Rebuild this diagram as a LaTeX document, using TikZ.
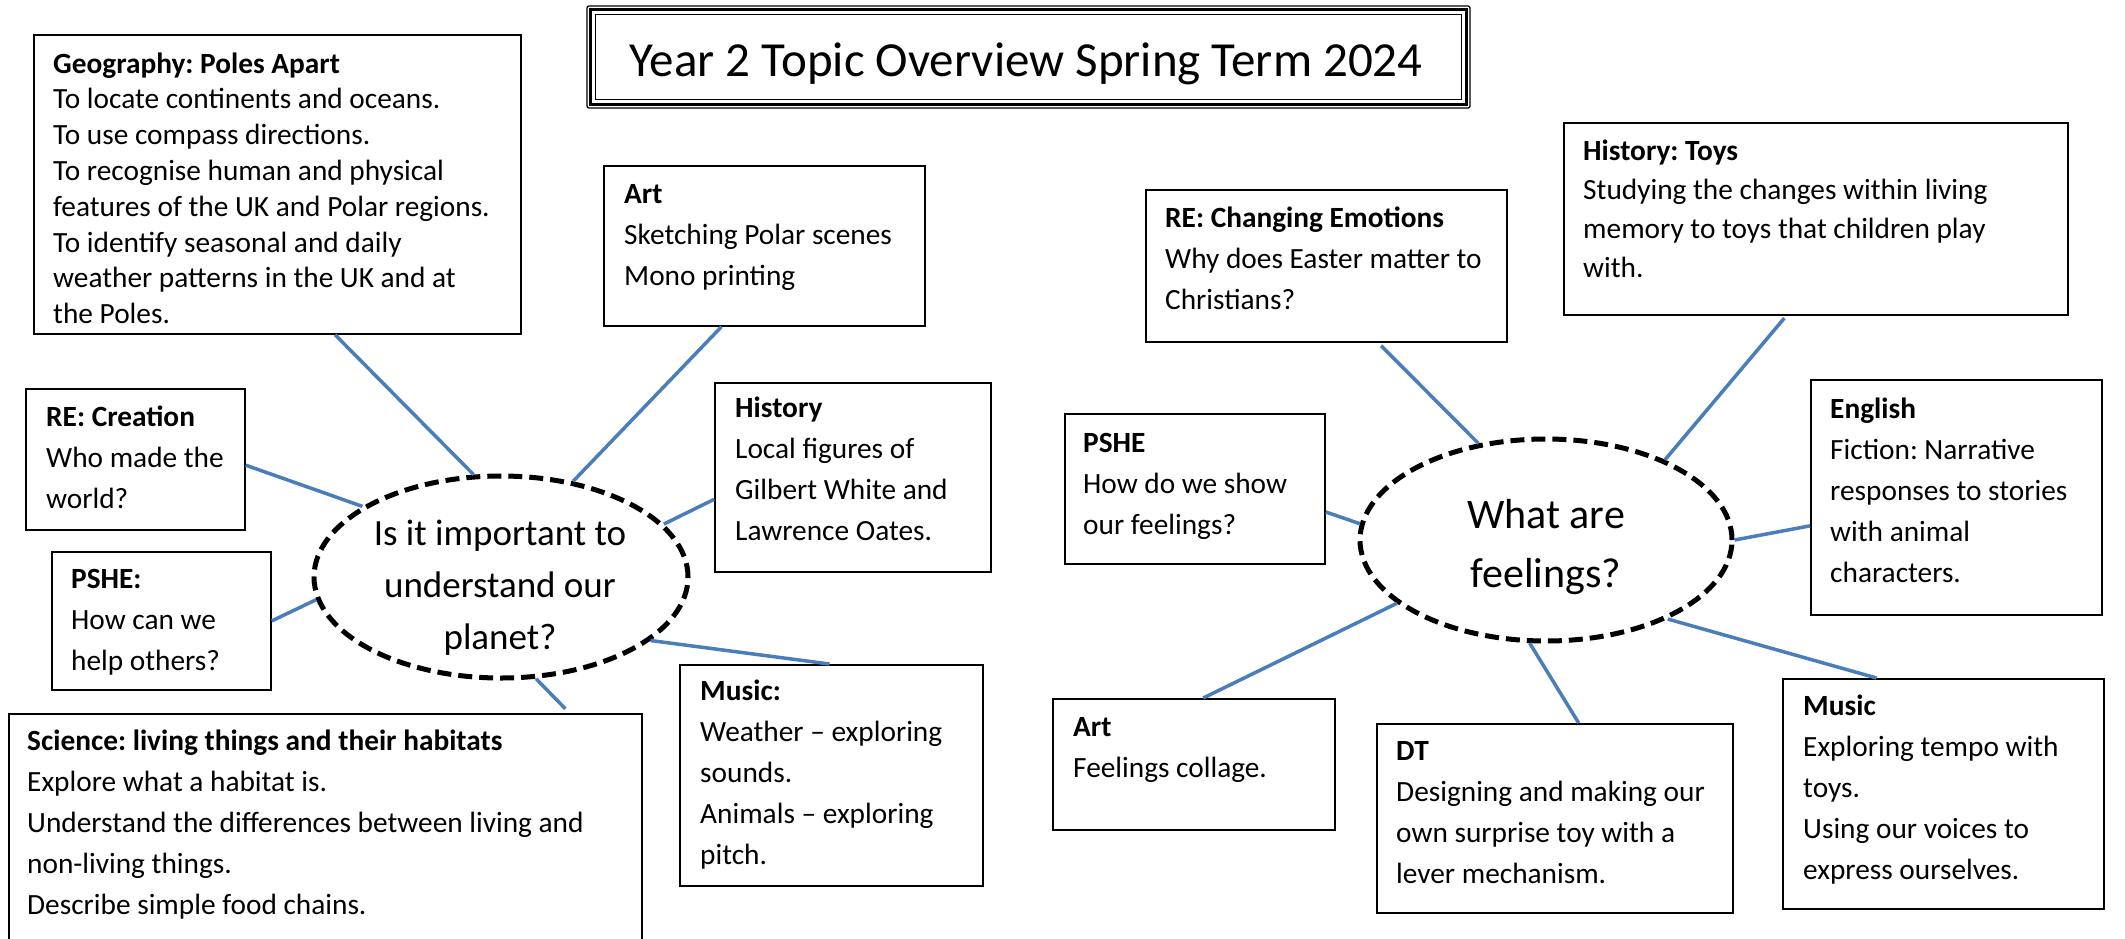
\documentclass[tikz,border=0pt]{standalone}
\usepackage{fontspec}
\setmainfont{Carlito}
\usetikzlibrary{shapes.geometric}
\definecolor{linkblue}{HTML}{4A7EBB}
\frenchspacing
\newcommand{\leftlines}[1]{\begin{tabular}[t]{@{}l@{}}#1\end{tabular}}
\newcommand{\midlines}[1]{\begin{tabular}[t]{@{}c@{}}#1\end{tabular}}
\begin{document}
\begin{tikzpicture}[x=1pt,y=-1pt,
  box/.style={draw=black, line width=1.8pt, rectangle, inner sep=0pt, anchor=north west},
  txt/.style={anchor=base west, inner sep=0pt, font=\fontsize{29.33}{41}\selectfont},
  qel/.style={draw=black, ellipse, line width=5pt, dash pattern=on 14pt off 7pt, inner sep=0pt},
  qtxt/.style={anchor=base, inner sep=0pt},
  link/.style={draw=linkblue, line width=3.5pt},
]
\useasboundingbox (0,0) rectangle (2125,938);
\clip (0,0) rectangle (2125,938);
\fill[white] (0,0) rectangle (2125,938);

% Title
\node[draw=black, line width=1.3pt, rounded corners=2pt, minimum width=883pt, minimum height=102pt, inner sep=0pt] (title) at (1028.5,57) {};
\draw[line width=3pt] ([shift={(4,4)}]title.north west) rectangle ([shift={(-4,-4)}]title.south east);
\draw[line width=1.2pt] ([shift={(9,9)}]title.north west) rectangle ([shift={(-9,-9)}]title.south east);
\node[anchor=base, inner sep=0pt, font=\fontsize{49}{56}\selectfont] (titleT) at (1026,76) {Year 2 Topic Overview Spring Term 2024};

% Left ellipse
\node[qel, minimum width=374pt, minimum height=202pt] (qa) at (501,577) {};
\node[qtxt, font=\fontsize{37}{52}\selectfont] (qaT) at (500,545) {\midlines{Is it important to\\understand our\\planet?}};

% Right ellipse
\node[qel, minimum width=372pt, minimum height=202pt] (qb) at (1546,540) {};
\node[qtxt, font=\fontsize{42}{59}\selectfont] (qbT) at (1546,528) {\midlines{What are\\feelings?}};

% Left boxes
\node[box, minimum width=487pt, minimum height=299pt] (geo) at (33,34) {};
\node[txt, font=\fontsize{29.33}{35.8}\selectfont] (geoT) at (53,73) {\leftlines{\textbf{Geography: Poles Apart}\\To locate continents and oceans.\\To use compass directions.\\To recognise human and physical\\features of the UK and Polar regions.\\To identify seasonal and daily\\weather patterns in the UK and at\\the Poles.}};

\node[box, minimum width=321pt, minimum height=160pt] (artA) at (603,165) {};
\node[txt] (artAT) at (624,203) {\leftlines{\textbf{Art}\\Sketching Polar scenes\\Mono printing}};

\node[box, minimum width=219pt, minimum height=141pt] (reA) at (25,388) {};
\node[txt] (reAT) at (46,426) {\leftlines{\textbf{RE: Creation}\\Who made the\\world?}};

\node[box, minimum width=219pt, minimum height=138pt] (psheA) at (51,551) {};
\node[txt] (psheAT) at (71,588) {\leftlines{\textbf{PSHE:}\\How can we\\help others?}};

\node[box, minimum width=276pt, minimum height=189pt] (histA) at (714,382) {};
\node[txt] (histAT) at (735,417) {\leftlines{\textbf{History}\\Local figures of\\Gilbert White and\\Lawrence Oates.}};

\node[box, minimum width=303pt, minimum height=221pt] (musA) at (679,664) {};
\node[txt] (musAT) at (700,700) {\leftlines{\textbf{Music:}\\Weather – exploring\\sounds.\\Animals – exploring\\pitch.}};

\node[box, minimum width=633pt, minimum height=247pt] (sci) at (8,713) {};
\node[txt] (sciT) at (27,750) {\leftlines{\textbf{Science: living things and their habitats}\\Explore what a habitat is.\\Understand the differences between living and\\non-living things.\\Describe simple food chains.}};

% Right boxes
\node[box, minimum width=361pt, minimum height=152pt] (reB) at (1145,189) {};
\node[txt] (reBT) at (1165,227) {\leftlines{\textbf{RE: Changing Emotions}\\Why does Easter matter to\\Christians?}};

\node[box, minimum width=504pt, minimum height=192pt] (histB) at (1563,122) {};
\node[txt, font=\fontsize{29.33}{39}\selectfont] (histBT) at (1583,160) {\leftlines{\textbf{History: Toys}\\Studying the changes within living\\memory to toys that children play\\with.}};

\node[box, minimum width=260pt, minimum height=150pt] (psheB) at (1064,413) {};
\node[txt] (psheBT) at (1083,452) {\leftlines{\textbf{PSHE}\\How do we show\\our feelings?}};

\node[box, minimum width=291pt, minimum height=235pt] (eng) at (1810,379) {};
\node[txt] (engT) at (1830,418) {\leftlines{\textbf{English}\\Fiction: Narrative\\responses to stories\\with animal\\characters.}};

\node[box, minimum width=282pt, minimum height=131pt] (artB) at (1052,698) {};
\node[txt] (artBT) at (1073,736) {\leftlines{\textbf{Art}\\Feelings collage.}};

\node[box, minimum width=356pt, minimum height=189pt] (dt) at (1376,723) {};
\node[txt] (dtT) at (1396,760) {\leftlines{\textbf{DT}\\Designing and making our\\own surprise toy with a\\lever mechanism.}};

\node[box, minimum width=321pt, minimum height=230pt] (musB) at (1782,678) {};
\node[txt] (musBT) at (1803,715) {\leftlines{\textbf{Music}\\Exploring tempo with\\toys.\\Using our voices to\\express ourselves.}};

% Connectors (left)
\draw[link] (geo.-69.5) -- (qa.105.9);
\draw[link] (artA.-118.5) -- (qa.53.8);
\draw[link] (reA.-3.9) -- (qa.153.4);
\draw[link] (psheA.-0.5) -- (qa.187.2);
\draw[link] (histA.-171.5) -- (qa.18.4);
\draw[link] (musA.91.3) -- (qa.-23.6);
\draw[link, shorten >=6pt] (qa.-71.9) -- (sci.27.8);

% Connectors (right)
\draw[link, shorten <=4pt] (reB.-56.9) -- (qb.125.6);
\draw[link, shorten <=3pt] (histB.-107.6) -- (qb.34.2);
\draw[link] (psheB.-10) -- (qb.175);
\draw[link] (eng.-169.6) -- (qb.0);
\draw[link] (artB.82.9) -- (qb.-157.2);
\draw[link] (dt.76.5) -- (qb.-99.8);
\draw[link] (musB.120.6) -- (qb.-33.2);
\end{tikzpicture}
\end{document}
